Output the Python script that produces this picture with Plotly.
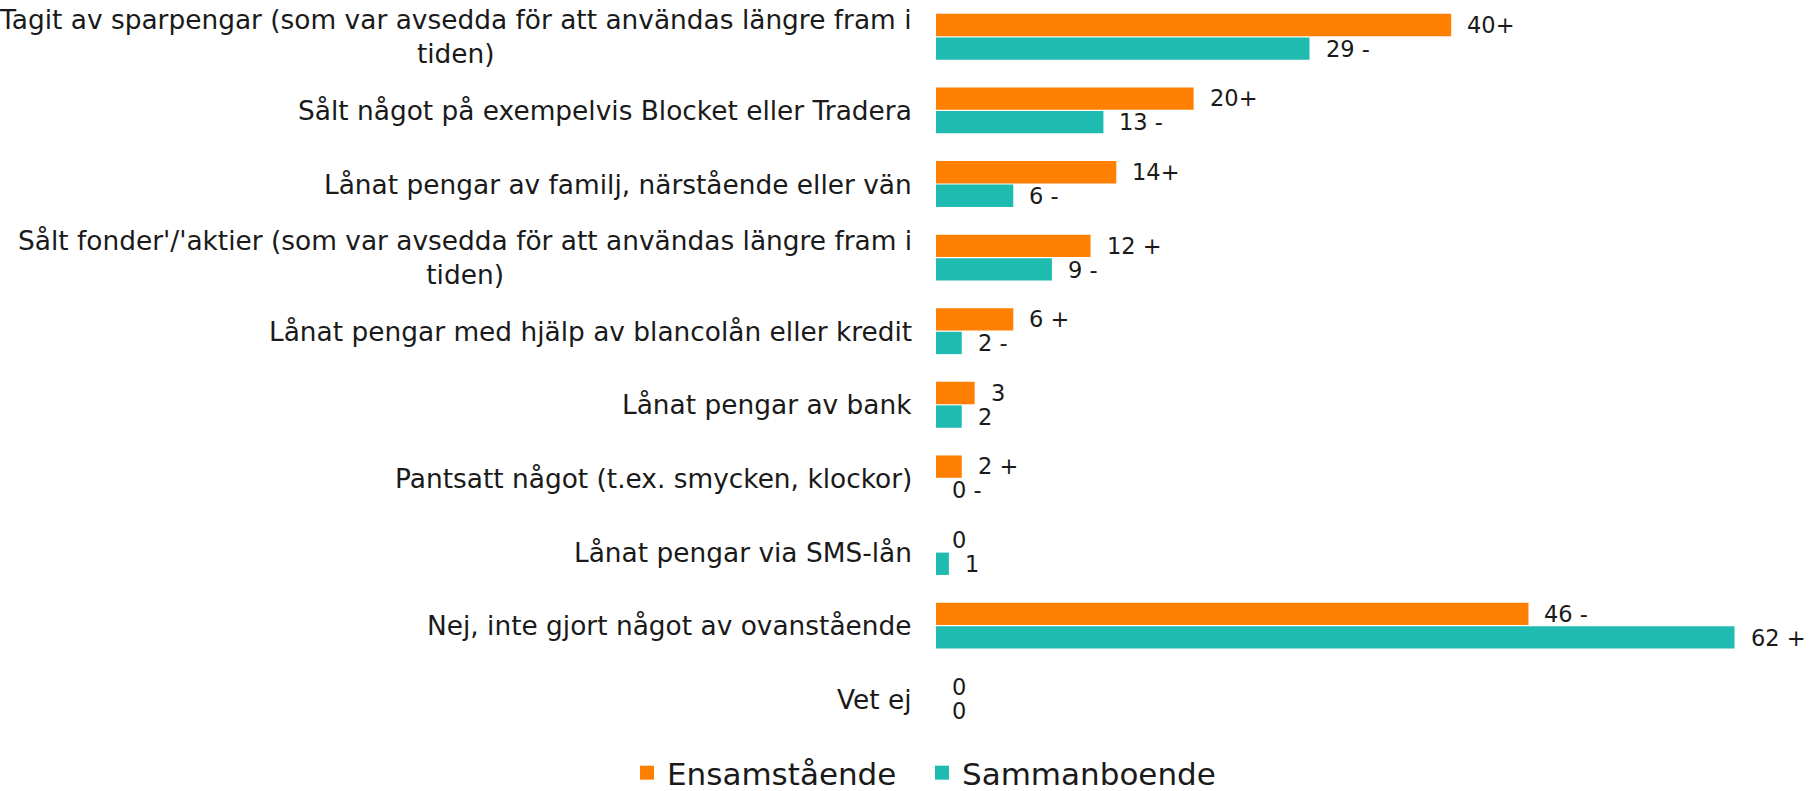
import plotly.graph_objects as go

categories = [
    "Tagit av sparpengar (som var avsedda för att användas längre fram i<br>tiden)",
    "Sålt något på exempelvis Blocket eller Tradera",
    "Lånat pengar av familj, närstående eller vän",
    "Sålt fonder'/'aktier (som var avsedda för att användas längre fram i<br>tiden)",
    "Lånat pengar med hjälp av blancolån eller kredit",
    "Lånat pengar av bank",
    "Pantsatt något (t.ex. smycken, klockor)",
    "Lånat pengar via SMS-lån",
    "Nej, inte gjort något av ovanstående",
    "Vet ej",
]
cat_ids = [f"c{i}" for i in range(len(categories))]

ensam = [40, 20, 14, 12, 6, 3, 2, 0, 46, 0]
samman = [29, 13, 6, 9, 2, 2, 0, 1, 62, 0]
ensam_sig = ["+", "+", "+", " +", " +", "", " +", "", " -", ""]
samman_sig = [" -", " -", " -", " -", " -", "", " -", "", " +", ""]

series_names = ["Ensamstående", "Sammanboende"]
colors = ["#FF7F00", "#20BBB0"]

FONT = "DejaVu Sans, Century Gothic, sans-serif"
TXT = "#1a1a1a"

fig = go.Figure()
for name, vals, col in zip(series_names, [ensam, samman], colors):
    fig.add_trace(go.Bar(
        y=cat_ids, x=vals, name=name, orientation="h",
        marker=dict(color=col, line=dict(width=0)),
        hoverinfo="x+name", showlegend=False,
    ))
# legend entries with larger square swatches, one legend box per series
for name, col, leg in zip(series_names, colors, ["legend", "legend2"]):
    fig.add_trace(go.Scatter(
        x=[None], y=[None], mode="markers", name=name, legend=leg,
        marker=dict(symbol="square", size=14, color=col),
        showlegend=True, hoverinfo="skip",
    ))

annotations = []
for cid, label in zip(cat_ids, categories):
    annotations.append(dict(
        x=0, xref="paper", y=cid, yref="y", text=label, showarrow=False,
        xanchor="right", yanchor="middle", align="center", xshift=-22,
        font=dict(family=FONT, size=26.4, color=TXT),
    ))
for vals, sigs, ysh in [(ensam, ensam_sig, 12), (samman, samman_sig, -12)]:
    for cid, v, s in zip(cat_ids, vals, sigs):
        annotations.append(dict(
            x=v, xref="x", y=cid, yref="y", text=f"{v}{s}", showarrow=False,
            xanchor="left", yanchor="middle", xshift=15, yshift=ysh,
            borderpad=0,
            font=dict(family=FONT, size=22.5, color=TXT),
        ))

legend_style = dict(orientation="h", xref="container", yref="paper",
                    xanchor="left", y=-0.0503, yanchor="middle",
                    font=dict(family=FONT, size=31, color=TXT),
                    itemsizing="trace", bgcolor="rgba(0,0,0,0)")

fig.update_layout(
    width=1810, height=791,
    margin=dict(l=936, r=0, t=0, b=55, autoexpand=False),
    paper_bgcolor="white", plot_bgcolor="white",
    barmode="group", bargap=0.36, bargroupgap=0.05,
    xaxis=dict(range=[0, 67.86], showticklabels=False, showgrid=False,
               zeroline=False, showline=False, fixedrange=True),
    yaxis=dict(autorange="reversed", showticklabels=False, showgrid=False,
               zeroline=False, showline=False, ticks="", fixedrange=True),
    showlegend=True,
    legend=dict(x=627 / 1810, **legend_style),
    legend2=dict(x=922 / 1810, **legend_style),
    annotations=annotations,
    font=dict(family=FONT, color=TXT),
)

fig.write_html(
    "out.html",
    config={"displayModeBar": False},
    post_script="document.body.style.margin='0';document.body.style.overflow='hidden';",
)
